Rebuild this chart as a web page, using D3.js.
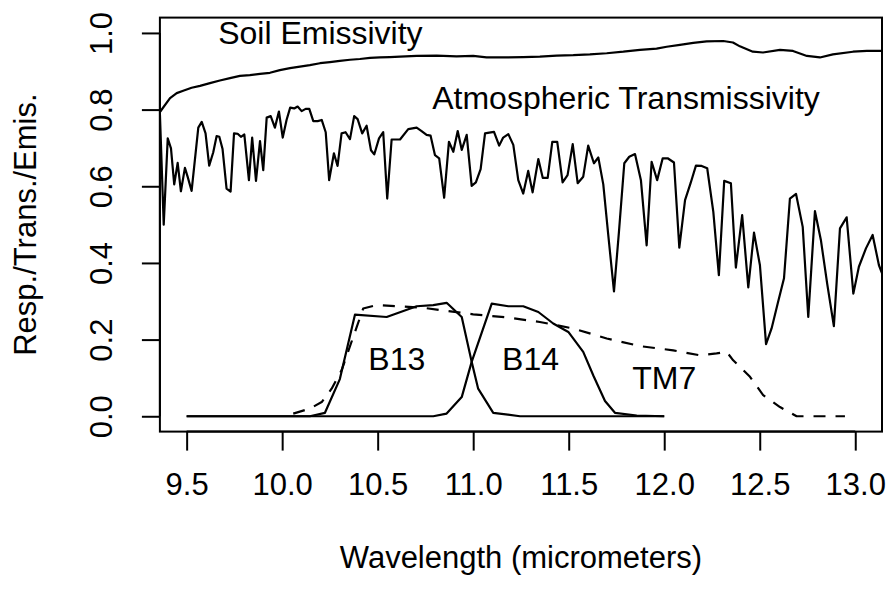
<!DOCTYPE html>
<html>
<head>
<meta charset="utf-8">
<script src="https://cdn.jsdelivr.net/npm/d3@7"></script>
<style>
  html, body { margin: 0; padding: 0; background: #fff; }
  svg { display: block; }
  text { font-family: "Liberation Sans", Arial, Helvetica, sans-serif; fill: #000; }
</style>
</head>
<body>
<svg id="chart" width="893" height="590"></svg>
<script>
// Soil emissivity spectrum (wavelength in micrometers, emissivity)
const soilWave = [9.362, 9.413, 9.448, 9.482, 9.526, 9.570, 9.622, 9.674, 9.727, 9.779, 9.831, 9.884, 9.936, 9.988,
  10.041, 10.093, 10.145, 10.198, 10.250, 10.302, 10.355, 10.407, 10.460, 10.512, 10.564, 10.617, 10.704, 10.809,
  10.913, 11.000, 11.070, 11.175, 11.262, 11.349, 11.437, 11.524, 11.611, 11.699, 11.786, 11.873, 11.960, 12.013,
  12.082, 12.152, 12.222, 12.309, 12.360, 12.396, 12.464, 12.517, 12.606, 12.674, 12.747, 12.815, 12.883, 12.988,
  13.061, 13.140];
const soilEmis = [0.795, 0.830, 0.843, 0.849, 0.857, 0.862, 0.869, 0.876, 0.882, 0.888, 0.890, 0.893, 0.896, 0.903,
  0.908, 0.912, 0.916, 0.921, 0.924, 0.927, 0.930, 0.932, 0.935, 0.936, 0.937, 0.938, 0.940, 0.941,
  0.939, 0.940, 0.936, 0.936, 0.937, 0.938, 0.941, 0.942, 0.944, 0.947, 0.951, 0.956, 0.959, 0.964,
  0.969, 0.974, 0.978, 0.979, 0.975, 0.965, 0.951, 0.949, 0.956, 0.953, 0.940, 0.936, 0.944, 0.951,
  0.953, 0.953];

// Atmospheric transmissivity
const atmWave = [9.360, 9.380, 9.401, 9.418, 9.435, 9.453, 9.470, 9.491, 9.505, 9.526, 9.561, 9.579, 9.599, 9.618,
  9.639, 9.657, 9.671, 9.688, 9.709, 9.730, 9.748, 9.767, 9.784, 9.802, 9.826, 9.843, 9.863, 9.884, 9.901, 9.919,
  9.940, 9.962, 9.983, 10.003, 10.023, 10.042, 10.063, 10.081, 10.102, 10.123, 10.142, 10.163, 10.186, 10.207,
  10.228, 10.246, 10.271, 10.290, 10.311, 10.332, 10.355, 10.377, 10.395, 10.419, 10.442, 10.465, 10.482, 10.507,
  10.529, 10.550, 10.573, 10.617, 10.660, 10.704, 10.730, 10.756, 10.777, 10.800, 10.822, 10.848, 10.873, 10.896,
  10.919, 10.940, 10.966, 10.992, 11.014, 11.039, 11.062, 11.084, 11.109, 11.136, 11.157, 11.184, 11.210, 11.236,
  11.262, 11.288, 11.311, 11.341, 11.364, 11.390, 11.414, 11.440, 11.468, 11.494, 11.521, 11.547, 11.576, 11.602,
  11.632, 11.655, 11.681, 11.707, 11.737, 11.763, 11.791, 11.817, 11.847, 11.878, 11.908, 11.934, 11.963, 11.992,
  12.018, 12.051, 12.079, 12.109, 12.138, 12.166, 12.196, 12.225, 12.257, 12.286, 12.314, 12.349, 12.375, 12.408,
  12.440, 12.470, 12.501, 12.533, 12.562, 12.594, 12.627, 12.658, 12.690, 12.725, 12.754, 12.789, 12.820, 12.853,
  12.888, 12.920, 12.955, 12.990, 13.019, 13.056, 13.091, 13.124, 13.147];
const atmTrans = [0.790, 0.500, 0.725, 0.699, 0.605, 0.661, 0.587, 0.648, 0.625, 0.588, 0.753, 0.768, 0.738, 0.654,
  0.688, 0.731, 0.729, 0.697, 0.594, 0.586, 0.738, 0.737, 0.729, 0.735, 0.616, 0.727, 0.614, 0.718, 0.642, 0.779,
  0.783, 0.753, 0.795, 0.727, 0.773, 0.805, 0.803, 0.808, 0.796, 0.802, 0.802, 0.770, 0.770, 0.773,
  0.741, 0.616, 0.686, 0.653, 0.738, 0.741, 0.723, 0.783, 0.775, 0.738, 0.758, 0.694, 0.683, 0.725,
  0.741, 0.568, 0.722, 0.722, 0.749, 0.753, 0.744, 0.734, 0.732, 0.681, 0.673, 0.570, 0.716, 0.690,
  0.744, 0.695, 0.734, 0.601, 0.610, 0.645, 0.738, 0.740, 0.742, 0.706, 0.727, 0.736, 0.708, 0.616,
  0.581, 0.640, 0.584, 0.671, 0.622, 0.622, 0.716, 0.716, 0.610, 0.629, 0.710, 0.608, 0.625, 0.706,
  0.660, 0.675, 0.605, 0.473, 0.326, 0.481, 0.660, 0.677, 0.684, 0.616, 0.446, 0.664, 0.616, 0.673,
  0.673, 0.662, 0.440, 0.564, 0.608, 0.654, 0.653, 0.647, 0.533, 0.368, 0.614, 0.608, 0.388, 0.525,
  0.336, 0.479, 0.394, 0.188, 0.229, 0.294, 0.360, 0.568, 0.580, 0.494, 0.259, 0.535, 0.460, 0.346,
  0.235, 0.490, 0.519, 0.320, 0.390, 0.438, 0.473, 0.394, 0.364];

// ASTER band 13 spectral response
const b13Wave = [9.500, 10.145, 10.224, 10.302, 10.381, 10.547, 10.704, 10.791, 10.861, 10.940, 10.992, 11.026, 11.105, 11.245, 12.000];
const b13Resp = [0.000, 0.000, 0.009, 0.097, 0.265, 0.259, 0.287, 0.290, 0.296, 0.259, 0.142, 0.072, 0.009, 0.000, 0.000];

// ASTER band 14 spectral response
const b14Wave = [9.500, 10.791, 10.861, 10.940, 10.992, 11.097, 11.184, 11.262, 11.341, 11.419, 11.498, 11.576, 11.630, 11.690, 11.742, 11.856, 12.000];
const b14Resp = [0.000, 0.000, 0.007, 0.050, 0.142, 0.294, 0.287, 0.287, 0.272, 0.242, 0.220, 0.168, 0.105, 0.040, 0.009, 0.002, 0.000];

// Landsat TM band 7 spectral response
const tm7Wave = [10.058, 10.145, 10.207, 10.259, 10.311, 10.424, 10.495, 10.739, 10.826, 11.000, 11.175, 11.349, 11.524,
  11.699, 11.873, 12.047, 12.187, 12.274, 12.327, 12.361, 12.449, 12.518, 12.606, 12.693, 12.946];
const tm7Resp = [0.007, 0.020, 0.037, 0.072, 0.120, 0.281, 0.290, 0.283, 0.277, 0.266, 0.258, 0.246, 0.229,
  0.203, 0.183, 0.172, 0.159, 0.164, 0.168, 0.146, 0.103, 0.055, 0.024, 0.000, 0.000];

const xTicks = [9.5, 10.0, 10.5, 11.0, 11.5, 12.0, 12.5, 13.0];
const yTicks = [0.0, 0.2, 0.4, 0.6, 0.8, 1.0];

// Curve labels: [text, wavelength, value]
const curveLabels = [
  ["Soil Emissivity", 10.2, 1.0],
  ["Atmospheric Transmissivity", 11.8, 0.83],
  ["B13", 10.6, 0.15],
  ["B14", 11.3, 0.15],
  ["TM7", 12.0, 0.10]
];

const svg = d3.select("#chart");
const box = { left: 159.9, right: 882.0, top: 17.6, bottom: 431.6 };

const x = d3.scaleLinear().domain([9.36, 13.14]).range([box.left, box.right]);
const y = d3.scaleLinear().domain([-0.04, 1.04]).range([box.bottom, box.top]);

svg.append("defs").append("clipPath").attr("id", "plotClip")
  .append("rect")
  .attr("x", box.left).attr("y", box.top)
  .attr("width", box.right - box.left).attr("height", box.bottom - box.top);

const plot = svg.append("g").attr("clip-path", "url(#plotClip)");

const line = d3.line().x(d => x(d[0])).y(d => y(d[1]));
const pairs = (a, b) => a.map((v, i) => [v, b[i]]);

function drawCurve(wave, vals, dashed) {
  plot.append("path")
    .datum(pairs(wave, vals))
    .attr("d", line)
    .attr("fill", "none")
    .attr("stroke", "#000")
    .attr("stroke-width", 2.2)
    .attr("stroke-linejoin", "round")
    .attr("stroke-linecap", "butt")
    .attr("stroke-dasharray", dashed ? "12,10" : null);
}

drawCurve(soilWave, soilEmis, false);
drawCurve(atmWave, atmTrans, false);
drawCurve(b13Wave, b13Resp, false);
drawCurve(b14Wave, b14Resp, false);
drawCurve(tm7Wave, tm7Resp, true);

// Plot frame
svg.append("rect")
  .attr("x", box.left).attr("y", box.top)
  .attr("width", box.right - box.left).attr("height", box.bottom - box.top)
  .attr("fill", "none").attr("stroke", "#000").attr("stroke-width", 2);

// Bottom axis
const xAxis = d3.axisBottom(x).tickValues(xTicks).tickFormat(d3.format(".1f")).tickSize(19).tickPadding(22);
const gx = svg.append("g").attr("transform", `translate(0,${box.bottom})`).call(xAxis);
gx.select(".domain").attr("d", `M${x(9.5)},0H${x(13.0)}`).attr("stroke-width", 2);
gx.selectAll(".tick line").attr("stroke-width", 2);
gx.selectAll(".tick text").attr("font-size", 31).attr("font-family", "Liberation Sans, Arial, sans-serif");

// Left axis with rotated labels
const yAxis = d3.axisLeft(y).tickValues(yTicks).tickFormat(d3.format(".1f")).tickSize(18).tickPadding(0);
const gy = svg.append("g").attr("transform", `translate(${box.left},0)`).call(yAxis);
gy.select(".domain").attr("d", `M0,${y(0)}V${y(1)}`).attr("stroke-width", 2);
gy.selectAll(".tick line").attr("stroke-width", 2);
gy.selectAll(".tick text")
  .attr("font-size", 31).attr("font-family", "Liberation Sans, Arial, sans-serif")
  .attr("x", null).attr("dy", null)
  .attr("text-anchor", "middle")
  .attr("dominant-baseline", "central")
  .attr("transform", "translate(-58,0) rotate(-90)");

// Axis titles
svg.append("text")
  .attr("x", (box.left + box.right) / 2).attr("y", 557)
  .attr("text-anchor", "middle").attr("dominant-baseline", "central")
  .attr("font-size", 31)
  .text("Wavelength (micrometers)");

svg.append("text")
  .attr("transform", `translate(25,${(box.top + box.bottom) / 2}) rotate(-90)`)
  .attr("text-anchor", "middle").attr("dominant-baseline", "central")
  .attr("font-size", 31)
  .text("Resp./Trans./Emis.");

// Curve labels
svg.append("g").selectAll("text")
  .data(curveLabels)
  .join("text")
  .attr("x", d => x(d[1]))
  .attr("y", d => y(d[2]))
  .attr("text-anchor", "middle")
  .attr("dominant-baseline", "central")
  .attr("font-size", 32)
  .text(d => d[0]);
</script>
</body>
</html>
